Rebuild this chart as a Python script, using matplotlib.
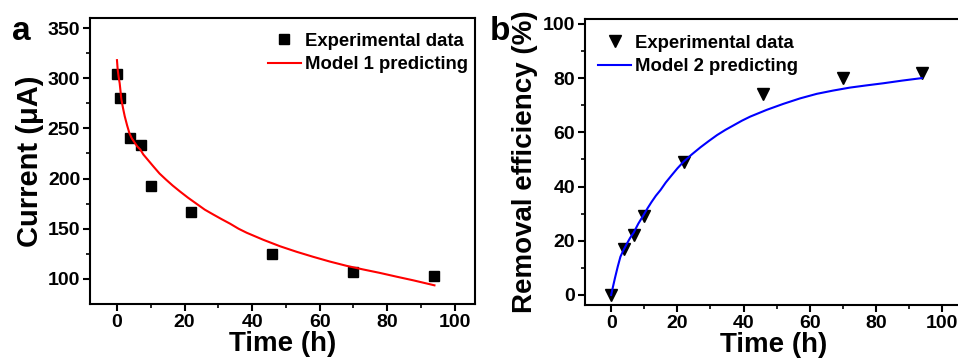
import matplotlib.pyplot as plt

plt.rcParams["font.family"] = ["Liberation Sans", "DejaVu Sans"]
plt.rcParams["font.weight"] = "bold"

# panel a: current
time_a = [0, 1, 4, 7, 10, 22, 46, 70, 94]
current = [304, 280, 240, 233, 193, 167, 125, 107, 103]
model1_t = [0, 0.2, 0.5, 0.8, 1.3, 1.8, 2.3, 3.0, 3.7, 4.4, 5.2, 6.0, 6.9, 7.8, 8.8,
            9.8, 10.8, 12.6, 14.5, 16.5, 18.7, 21, 23.5, 26, 28.6, 31, 33.5, 36, 38.4,
            43.3, 48.3, 53.2, 58.1, 63, 68, 72.9, 77.8, 82.8, 87.7, 94]
model1_i = [318, 309, 301, 295, 279, 270, 262, 253, 245, 240, 236, 232, 229, 224, 220,
            216, 212, 205, 199, 193, 187, 181, 175, 169, 164, 159.5, 155, 150, 146,
            139, 132.5, 127, 122, 117.3, 113, 109.4, 106, 102.2, 98.6, 93.6]

# panel b: removal efficiency
time_b = [0, 4, 7, 10, 22, 46, 70, 94]
removal = [0, 17, 22, 29, 49, 74, 80, 82]
model2_t = [0, 0.6, 1.2, 2.0, 2.8, 3.7, 4.7, 5.7, 6.8, 8.2, 9.8, 11, 12.2, 13.5, 14.9,
            16.5, 18.3, 20, 21.9, 24.5, 27, 29.5, 32, 34.5, 37, 39.5, 42,
            47, 52, 57, 62.1, 67, 72.1, 77, 82.2, 88, 93.8]
model2_r = [0, 3.3, 6.5, 10.5, 14.1, 16.5, 18.8, 21, 23, 26.3, 29.5, 32, 34.3, 36.6, 38.7,
            41.5, 44.2, 46.7, 49.2, 52, 54.5, 56.8, 59, 60.9, 62.6, 64.3, 65.8,
            68.3, 70.5, 72.5, 74.2, 75.4, 76.5, 77.3, 78.1, 79.1, 80]

fig = plt.figure(figsize=(9.58, 3.6), dpi=100)
ax1 = fig.add_axes([0.0939, 0.1556, 0.4019, 0.7944])
ax2 = fig.add_axes([0.6103, 0.1528, 0.394, 0.7936])

ax1.plot(time_a, current, "s", color="black", markersize=6.5, label="Experimental data")
ax1.plot(model1_t, model1_i, "-", color="#ff0000", linewidth=1.5, label="Model 1 predicting")
ax1.set_xlim(-8, 106)
ax1.set_ylim(75, 360)
ax1.set_xticks([0, 20, 40, 60, 80, 100])
ax1.set_xticks([10, 30, 50, 70, 90], minor=True)
ax1.set_yticks([100, 150, 200, 250, 300, 350])
ax1.set_yticks([125, 175, 225, 275, 325], minor=True)
ax1.set_xlabel("Time (h)", fontsize=20, fontweight="bold", labelpad=0)
ax1.set_ylabel("Current (\u03bcA)", fontsize=21, fontweight="bold", labelpad=3)
ax1.legend(loc="upper right", bbox_to_anchor=(1.0, 0.975), frameon=False, fontsize=13.3,
           handlelength=1.8, handletextpad=0.2, labelspacing=0.35, borderaxespad=0.0,
           borderpad=0.4)

ax2.plot(time_b, removal, "v", color="black", markersize=9, label="Experimental data")
ax2.plot(model2_t, model2_r, "-", color="#0000ff", linewidth=1.5, label="Model 2 predicting")
ax2.set_xlim(-8, 106)
ax2.set_ylim(-3.7, 101.7)
ax2.set_xticks([0, 20, 40, 60, 80, 100])
ax2.set_xticks([10, 30, 50, 70, 90], minor=True)
ax2.set_yticks([0, 20, 40, 60, 80, 100])
ax2.set_yticks([10, 30, 50, 70, 90], minor=True)
ax2.set_xlabel("Time (h)", fontsize=20, fontweight="bold", labelpad=0)
ax2.set_ylabel("Removal efficiency (%)", fontsize=20, fontweight="bold", labelpad=3)
ax2.legend(loc="upper left", bbox_to_anchor=(0.016, 0.972), frameon=False, fontsize=13.3,
           handlelength=1.8, handletextpad=0.2, labelspacing=0.35, borderaxespad=0.0,
           borderpad=0.4)

for ax in (ax1, ax2):
    for s in ax.spines.values():
        s.set_linewidth(1.5)
    ax.tick_params(which="major", direction="out", length=5, width=1.5, labelsize=14, pad=2)
    ax.tick_params(which="minor", direction="out", length=3, width=1.2)
    for lab in ax.get_xticklabels() + ax.get_yticklabels():
        lab.set_fontweight("bold")

fig.text(0.013, 0.89, "a", fontsize=24, fontweight="bold")
fig.text(0.511, 0.89, "b", fontsize=24, fontweight="bold")

fig.savefig("out.png", dpi=100)
